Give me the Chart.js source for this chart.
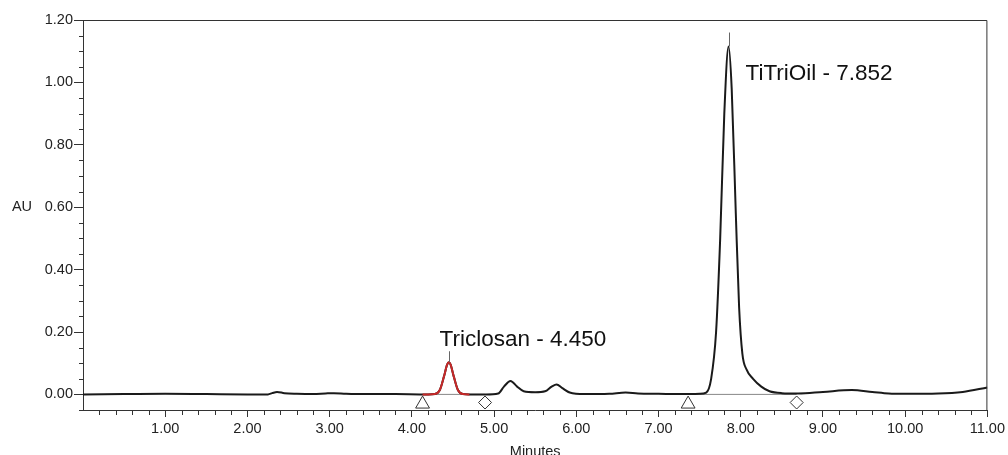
<!DOCTYPE html>
<html>
<head>
<meta charset="utf-8">
<script src="https://cdn.jsdelivr.net/npm/chart.js@4.4.0/dist/chart.umd.min.js"></script>
<style>
  html, body { margin: 0; padding: 0; background: #fff; }
  #wrap { width: 1008px; height: 455px; }
</style>
</head>
<body>
<div id="wrap"><canvas id="chromatogram" width="1008" height="455"></canvas></div>
<script>
// detector trace (minutes, AU)
const times = [
  0.00, 0.50, 1.00, 1.50, 2.00, 2.25, 2.30, 2.36, 2.45, 2.60,
  2.80, 2.95, 3.05, 3.20, 3.50, 3.80, 4.13, 4.20, 4.28, 4.34,
  4.39, 4.43, 4.45, 4.47, 4.51, 4.56, 4.62, 4.70, 4.90, 5.05,
  5.12, 5.20, 5.28, 5.36, 5.50, 5.62, 5.70, 5.76, 5.83, 5.92,
  6.10, 6.40, 6.60, 6.75, 7.00, 7.30, 7.50, 7.58, 7.64, 7.70,
  7.75, 7.80, 7.852, 7.89, 7.94, 7.98, 8.02, 8.07, 8.15, 8.25,
  8.35, 8.50, 8.70, 9.00, 9.35, 9.60, 9.80, 10.00, 10.40, 10.70, 11.00
];
const absorbance = [
  0.000, 0.001, 0.002, 0.001, 0.000, 0.000, 0.004, 0.008, 0.004, 0.002,
  0.001, 0.003, 0.004, 0.002, 0.001, 0.001, 0.000, 0.000, 0.001, 0.014,
  0.057, 0.096, 0.103, 0.096, 0.057, 0.014, 0.001, 0.000, 0.000, 0.003,
  0.025, 0.043, 0.025, 0.010, 0.007, 0.010, 0.025, 0.032, 0.020, 0.006,
  0.001, 0.002, 0.006, 0.003, 0.002, 0.001, 0.002, 0.006, 0.050, 0.200,
  0.500, 0.900, 1.115, 0.980, 0.580, 0.280, 0.130, 0.080, 0.050, 0.025,
  0.010, 0.004, 0.003, 0.008, 0.014, 0.008, 0.003, 0.002, 0.003, 0.008, 0.022
];

// integrated peaks
const peakNames = ['Triclosan', 'TiTriOil'];
const peakTimes = [4.450, 7.852];
const peakHeights = [0.103, 1.115];
const baselineStart = [4.13, 7.36];
const baselineEnd = [4.89, 8.68];

// axis ticks
const xTicks = [1, 2, 3, 4, 5, 6, 7, 8, 9, 10, 11];
const yTicks = [0, 0.2, 0.4, 0.6, 0.8, 1.0, 1.2];

const FONT = '"Liberation Sans", Arial, sans-serif';
const INK = '#333';

const trace = times.map((t, i) => ({ x: t, y: absorbance[i] }));
// fitted part of the first peak, drawn in red
const fitted = trace.filter(p => p.x >= baselineStart[0] && p.x <= baselineEnd[0]);

const peakLabelStyle = [
  { dx: -10, dy: -22, stem: 11 },
  { dx: 16, dy: 27, stem: 14 }
];

const decorations = {
  id: 'decorations',
  afterDraw(chart) {
    const ctx = chart.ctx;
    const xs = chart.scales.x, ys = chart.scales.y;
    const a = chart.chartArea;
    ctx.save();
    ctx.strokeStyle = INK;
    ctx.lineWidth = 1;

    // frame top and right
    ctx.beginPath();
    ctx.moveTo(a.left, a.top + 0.5);
    ctx.lineTo(a.right - 0.5, a.top + 0.5);
    ctx.lineTo(a.right - 0.5, a.bottom);
    ctx.stroke();

    // minor ticks
    ctx.beginPath();
    for (let i = 1; i < 55; i++) {
      if (i % 5 === 0) continue;
      const px = Math.round(xs.getPixelForValue(i * 0.2)) + 0.5;
      ctx.moveTo(px, a.bottom);
      ctx.lineTo(px, a.bottom + 5);
    }
    for (let i = -1; i < 24; i++) {
      if (i % 4 === 0) continue;
      const py = Math.round(ys.getPixelForValue(i * 0.05)) + 0.5;
      ctx.moveTo(a.left - 4, py);
      ctx.lineTo(a.left, py);
    }
    ctx.stroke();

    // peak stems and labels
    ctx.strokeStyle = '#666';
    peakTimes.forEach((t, i) => {
      const px = Math.round(xs.getPixelForValue(t)) + 0.5;
      const py = ys.getPixelForValue(peakHeights[i]);
      const st = peakLabelStyle[i];
      ctx.beginPath();
      ctx.moveTo(px, py);
      ctx.lineTo(px, py - st.stem);
      ctx.stroke();
      ctx.fillStyle = '#111';
      ctx.font = '22.5px ' + FONT;
      ctx.textAlign = 'left';
      ctx.textBaseline = 'middle';
      ctx.fillText(peakNames[i] + ' - ' + t.toFixed(3), px + st.dx, py + st.dy);
    });

    // axis titles
    ctx.fillStyle = '#222';
    ctx.font = '14.5px ' + FONT;
    ctx.textAlign = 'center';
    ctx.textBaseline = 'middle';
    ctx.fillText('AU', 22, ys.getPixelForValue(0.6));
    ctx.textBaseline = 'alphabetic';
    ctx.fillText('Minutes', (a.left + a.right) / 2, 455.5);
    ctx.restore();
  }
};

new Chart(document.getElementById('chromatogram').getContext('2d'), {
  type: 'line',
  data: {
    datasets: [
      {
        data: fitted,
        borderColor: '#c62828',
        borderWidth: 2,
        pointRadius: 0,
        cubicInterpolationMode: 'monotone',
        order: 0
      },
      {
        data: trace,
        borderColor: '#1a1a1a',
        borderWidth: 2,
        pointRadius: 0,
        cubicInterpolationMode: 'monotone',
        order: 1
      },
      ...baselineStart.map((s, i) => ({
        data: [{ x: s, y: 0 }, { x: baselineEnd[i], y: 0 }],
        borderColor: '#888',
        borderWidth: 1,
        pointRadius: 0,
        order: 2
      })),
      {
        data: baselineStart.map(s => ({ x: s, y: -0.031 })),
        showLine: false,
        pointStyle: 'triangle',
        pointRadius: 8,
        pointBorderColor: INK,
        pointBackgroundColor: '#fff',
        pointBorderWidth: 1,
        order: 0
      },
      {
        data: baselineEnd.map(s => ({ x: s, y: -0.026 })),
        showLine: false,
        pointStyle: 'rectRot',
        pointRadius: 6.5,
        pointBorderColor: INK,
        pointBackgroundColor: '#fff',
        pointBorderWidth: 1,
        order: 0
      }
    ]
  },
  options: {
    responsive: false,
    animation: false,
    layout: { padding: { top: 20, right: 18, left: 0, bottom: 0 } },
    plugins: { legend: { display: false }, tooltip: { enabled: false } },
    scales: {
      x: {
        type: 'linear',
        min: 0,
        max: 11,
        afterBuildTicks: s => { s.ticks = xTicks.map(v => ({ value: v })); },
        afterFit: s => { s.height = 45; },
        ticks: {
          callback: v => Number(v).toFixed(2),
          font: { family: FONT, size: 14.5 },
          color: '#222',
          padding: 3,
          maxRotation: 0,
          autoSkip: false
        },
        grid: { drawOnChartArea: false, tickLength: 7, tickColor: INK, tickWidth: 1 },
        border: { color: INK, width: 1 }
      },
      y: {
        type: 'linear',
        min: -0.05,
        max: 1.2,
        afterBuildTicks: s => { s.ticks = yTicks.map(v => ({ value: v })); },
        afterFit: s => { s.width = 83; },
        ticks: {
          callback: v => Number(v).toFixed(2),
          font: { family: FONT, size: 14.5 },
          color: '#222',
          padding: 1
        },
        grid: { drawOnChartArea: false, tickLength: 9, tickColor: INK, tickWidth: 1 },
        border: { color: INK, width: 1 }
      }
    }
  },
  plugins: [decorations]
});
</script>
</body>
</html>
